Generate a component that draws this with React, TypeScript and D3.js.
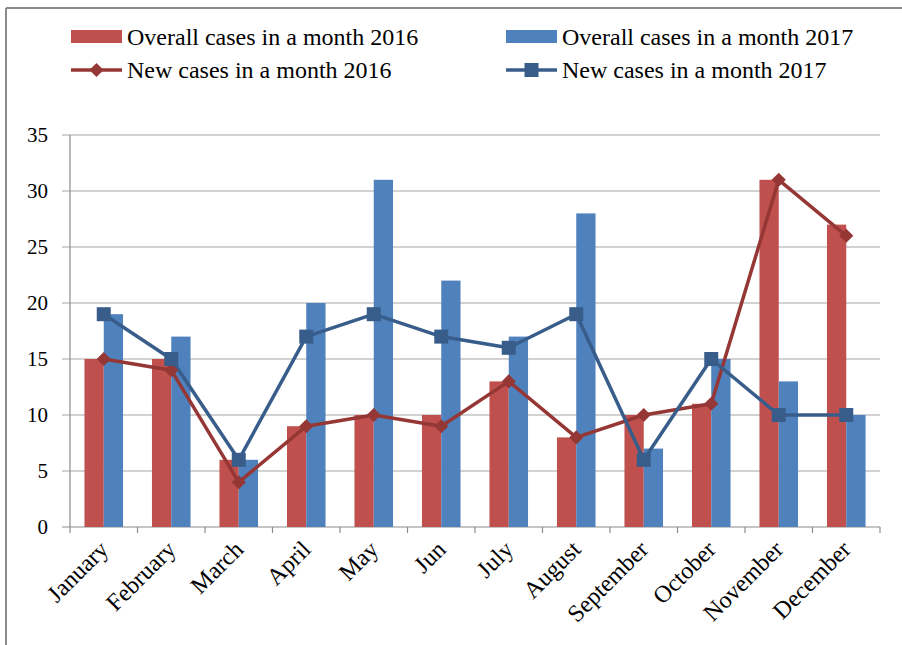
import React from "react";
import * as d3 from "d3";

const months = ["January","February","March","April","May","Jun","July","August","September","October","November","December"];
const overall2016 = [15,15,6,9,10,10,13,8,10,11,31,27];
const overall2017 = [19,17,6,20,31,22,17,28,7,15,13,10];
const new2016 = [15,14,4,9,10,9,13,8,10,11,31,26];
const new2017 = [19,15,6,17,19,17,16,19,6,15,10,10];
const yTicks = [0,5,10,15,20,25,30,35];

const W = 902, H = 645;
const left = 70, right = 880, top = 135, bottom = 527;
const FONT = "'Liberation Serif', 'Times New Roman', serif";

export default function App() {
  const x = d3.scaleBand<string>().domain(months).range([left, right]).paddingInner(0).paddingOuter(0);
  const y = d3.scaleLinear().domain([0, 35]).range([bottom, top]);
  const bw = x.bandwidth() / 3.5;
  const cx = (m: string) => (x(m) as number) + x.bandwidth() / 2;
  const line = d3.line<number>().x((_, i) => cx(months[i])).y((v) => y(v));
  const redBar = "#C0504D", blueBar = "#4F81BD", redLine = "#953735", blueLine = "#385D8A";
  const grid = "#a6a6a6";
  return (
    <svg width={W} height={H} style={{ position: "absolute", left: 0, top: 0, background: "#fff" }}>
      <rect x={0} y={0} width={W} height={H} fill="#fff" />
      <line x1={6} x2={W} y1={8} y2={8} stroke="#8c8c8c" strokeWidth={2} />
      <line x1={6} x2={6} y1={8} y2={H} stroke="#8c8c8c" strokeWidth={2} />
      {/* grid */}
      {yTicks.map((t) => (
        <g key={t}>
          <line x1={left - 8} x2={right} y1={y(t)} y2={y(t)} stroke={t === 0 ? "#8c8c8c" : grid} strokeWidth={1.2} />
          <text x={48} y={y(t)} dy="0.35em" textAnchor="end" fontFamily={FONT} fontSize={21} fill="#000">{t}</text>
        </g>
      ))}
      <line x1={left} x2={left} y1={top} y2={bottom} stroke="#8c8c8c" strokeWidth={1.2} />
      {months.map((m) => (
        <line key={"t" + m} x1={x(m) as number} x2={x(m) as number} y1={bottom} y2={bottom + 6} stroke="#8c8c8c" strokeWidth={1.2} />
      ))}
      <line x1={right} x2={right} y1={bottom} y2={bottom + 6} stroke="#8c8c8c" strokeWidth={1.2} />
      {/* bars */}
      {months.map((m, i) => {
        const x0 = cx(m) - bw;
        return (
          <g key={"b" + m}>
            <rect x={x0} y={y(overall2016[i])} width={bw} height={bottom - y(overall2016[i])} fill={redBar} />
            <rect x={x0 + bw} y={y(overall2017[i])} width={bw} height={bottom - y(overall2017[i])} fill={blueBar} />
          </g>
        );
      })}
      {/* lines */}
      <path d={line(new2016) as string} fill="none" stroke={redLine} strokeWidth={3.5} strokeLinejoin="round" />
      <path d={line(new2017) as string} fill="none" stroke={blueLine} strokeWidth={3.5} strokeLinejoin="round" />
      {new2016.map((v, i) => (
        <rect key={"d" + i} x={cx(months[i]) - 5} y={y(v) - 5} width={10} height={10} fill={redLine}
          transform={`rotate(45 ${cx(months[i])} ${y(v)})`} />
      ))}
      {new2017.map((v, i) => (
        <rect key={"s" + i} x={cx(months[i]) - 7} y={y(v) - 7} width={14} height={14} fill={blueLine} />
      ))}
      {/* x labels */}
      {months.map((m) => (
        <text key={"l" + m} transform={`translate(${cx(m) - 6},${bottom + 12}) rotate(-45)`} textAnchor="end" dy="0.7em"
          fontFamily={FONT} fontSize={24} fill="#000">{m}</text>
      ))}
      {/* legend */}
      <rect x={71} y={30} width={51} height={13} fill={redBar} />
      <text x={127} y={37} dy="0.35em" fontFamily={FONT} fontSize={24}>Overall cases in a month 2016</text>
      <rect x={506} y={30} width={51} height={13} fill={blueBar} />
      <text x={562} y={37} dy="0.35em" fontFamily={FONT} fontSize={24}>Overall cases in a month 2017</text>
      <line x1={71} x2={122} y1={70} y2={70} stroke={redLine} strokeWidth={3.5} />
      <rect x={91.5} y={65} width={10} height={10} fill={redLine} transform="rotate(45 96.5 70)" />
      <text x={127} y={70} dy="0.35em" fontFamily={FONT} fontSize={24}>New cases in a month 2016</text>
      <line x1={506} x2={557} y1={70} y2={70} stroke={blueLine} strokeWidth={3.5} />
      <rect x={524.5} y={63} width={14} height={14} fill={blueLine} />
      <text x={562} y={70} dy="0.35em" fontFamily={FONT} fontSize={24}>New cases in a month 2017</text>
    </svg>
  );
}
